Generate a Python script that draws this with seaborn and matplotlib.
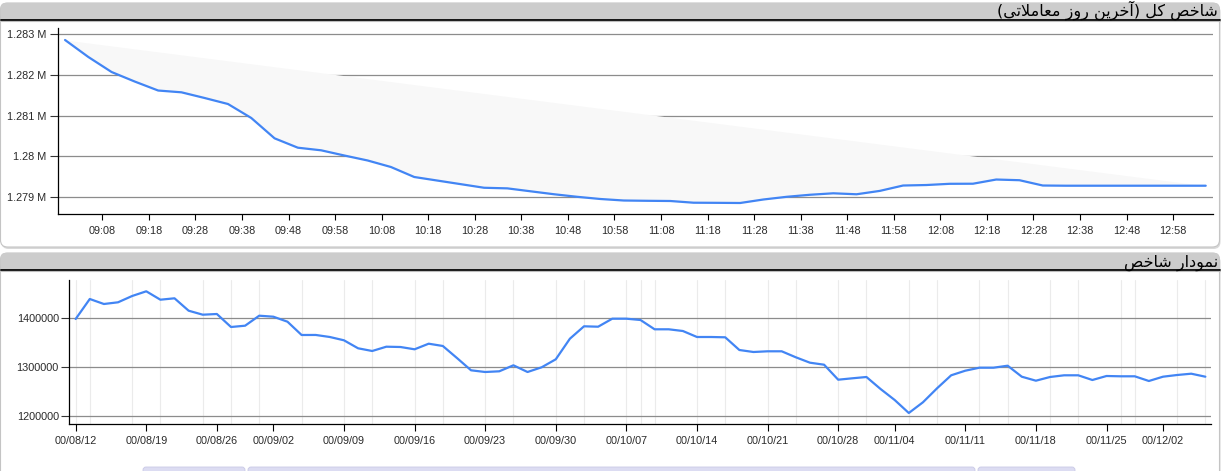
import numpy as np
import pandas as pd
import matplotlib
matplotlib.use("Agg")
import matplotlib.pyplot as plt
import seaborn as sns
from matplotlib.patches import FancyBboxPatch, Rectangle
from matplotlib.lines import Line2D
from matplotlib.transforms import IdentityTransform
from matplotlib.ticker import FixedLocator, FixedFormatter

# ------------------------------------------------------------------ data
title_top = "شاخص کل (آخرین روز معاملاتی)"
title_bottom = "نمودار شاخص"

# intraday index, one value every 5 minutes starting 09:00
intraday_start = "09:00"
intraday_step_min = 5
intraday_values = [
    1282853, 1282436, 1282067, 1281832, 1281613, 1281569, 1281429, 1281282, 1280939, 1280440,
    1280210, 1280146, 1280018, 1279896, 1279736, 1279491, 1279403, 1279315, 1279227, 1279212,
    1279140, 1279068, 1279005, 1278951, 1278914, 1278907, 1278902, 1278860, 1278857, 1278853,
    1278939, 1279005, 1279055, 1279091, 1279067, 1279150, 1279282, 1279294, 1279324, 1279326,
    1279429, 1279412, 1279282, 1279277, 1279277, 1279277, 1279277, 1279277, 1279277, 1279277,
]
intraday_tick_labels = ["09:08", "09:18", "09:28", "09:38", "09:48", "09:58", "10:08", "10:18",
                        "10:28", "10:38", "10:48", "10:58", "11:08", "11:18", "11:28", "11:38",
                        "11:48", "11:58", "12:08", "12:18", "12:28", "12:38", "12:48", "12:58"]
intraday_yticks = [1279000, 1280000, 1281000, 1282000, 1283000]

# daily index (trading days)
daily_values = [
    1398571, 1439388, 1429184, 1432653, 1445510, 1455102, 1437959, 1440816, 1415510, 1407347,
    1408776, 1382245, 1384898, 1405306, 1403265, 1393061, 1365918, 1366000, 1361837, 1355102,
    1338776, 1333265, 1342041, 1341429, 1336735, 1348163, 1343500, 1319000, 1293878, 1290408,
    1291837, 1304082, 1290408, 1300000, 1316327, 1358367, 1383673, 1382857, 1399184, 1399184,
    1396531, 1377551, 1377551, 1374082, 1361837, 1361837, 1361224, 1335306, 1331224, 1332653,
    1332653, 1320408, 1309388, 1305306, 1274694, 1277551, 1280204, 1255714, 1233265, 1206735,
    1228571, 1257143, 1283673, 1293061, 1299184, 1299184, 1303265, 1280816, 1272653, 1280204,
    1283673, 1283673, 1274082, 1282245, 1281633, 1281633, 1272041, 1280816, 1284286, 1286939,
    1280816,
]
daily_tick_labels = ["00/08/12", "00/08/19", "00/08/26", "00/09/02", "00/09/09", "00/09/16",
                     "00/09/23", "00/09/30", "00/10/07", "00/10/14", "00/10/21", "00/10/28",
                     "00/11/04", "00/11/11", "00/11/18", "00/11/25", "00/12/02"]
daily_tick_index = [0, 5, 10, 14, 19, 24, 29, 34, 39, 44, 49, 54, 58, 63, 68, 73, 77]
daily_vgrid_index = [0, 1, 4, 6, 9, 11, 13, 16, 19, 21, 24, 26, 29, 31, 34, 36, 39, 40, 41,
                     44, 46, 49, 51, 54, 56, 59, 61, 64, 66, 69, 71, 74, 75, 78, 80]
daily_yticks = [1200000, 1300000, 1400000]

# ------------------------------------------------------------------ Persian shaping
FORMS = {  # isolated, final, initial, medial
    '\u0627': ('\uFE8D', '\uFE8E', None, None),
    '\u0622': ('\uFE81', '\uFE82', None, None),
    '\u062F': ('\uFEA9', '\uFEAA', None, None),
    '\u0631': ('\uFEAD', '\uFEAE', None, None),
    '\u0632': ('\uFEAF', '\uFEB0', None, None),
    '\u0648': ('\uFEED', '\uFEEE', None, None),
    '\u0634': ('\uFEB5', '\uFEB6', '\uFEB7', '\uFEB8'),
    '\u062E': ('\uFEA5', '\uFEA6', '\uFEA7', '\uFEA8'),
    '\u0635': ('\uFEB9', '\uFEBA', '\uFEBB', '\uFEBC'),
    '\u06A9': ('\uFB8E', '\uFB8F', '\uFB90', '\uFB91'),
    '\u0644': ('\uFEDD', '\uFEDE', '\uFEDF', '\uFEE0'),
    '\u06CC': ('\uFBFC', '\uFBFD', '\uFBFE', '\uFBFF'),
    '\u0646': ('\uFEE5', '\uFEE6', '\uFEE7', '\uFEE8'),
    '\u0645': ('\uFEE1', '\uFEE2', '\uFEE3', '\uFEE4'),
    '\u0639': ('\uFEC9', '\uFECA', '\uFECB', '\uFECC'),
    '\u062A': ('\uFE95', '\uFE96', '\uFE97', '\uFE98'),
}
LAM_ALEF = {'\u0627': ('\uFEFB', '\uFEFC'), '\u0622': ('\uFEF5', '\uFEF6')}


def shape_rtl(text):
    chars = list(text)
    out = []
    i = 0
    n = len(chars)
    while i < n:
        c = chars[i]
        prev = chars[i - 1] if i > 0 else None
        prev_joins = prev in FORMS and FORMS[prev][2] is not None
        if c == '\u0644' and i + 1 < n and chars[i + 1] in LAM_ALEF:
            iso, fin = LAM_ALEF[chars[i + 1]]
            out.append(fin if prev_joins else iso)
            i += 2
            continue
        if c in FORMS:
            iso, fin, ini, med = FORMS[c]
            nxt = chars[i + 1] if i + 1 < n else None
            next_joins = nxt in FORMS and ini is not None
            if prev_joins and next_joins:
                out.append(med)
            elif prev_joins:
                out.append(fin)
            elif next_joins:
                out.append(ini)
            else:
                out.append(iso)
        else:
            out.append(c)
        i += 1
    vis = ''.join(reversed(out))
    return vis.translate(str.maketrans('()', ')('))


# ------------------------------------------------------------------ style
sns.set_theme(style="white")
plt.rcParams['font.family'] = ['Liberation Sans', 'DejaVu Sans']

W, H = 1228, 471
fig = plt.figure(figsize=(W / 100, H / 100), dpi=100)
fig.patch.set_facecolor('white')

LINE = '#4285f4'
TXT = '#2a2a2a'
GRID = '#8c8c8c'
ID = IdentityTransform()


def add_panel(y0, y1, title, baseline):
    # shadow + panel body
    fig.add_artist(FancyBboxPatch((1.5, H - y1 - 2), 1219, y1 - y0,
                                  boxstyle="round,pad=0,rounding_size=7",
                                  transform=ID, fc='#d9d9d9', ec='none', zorder=-5))
    fig.add_artist(FancyBboxPatch((0.5, H - y1), 1219, y1 - y0,
                                  boxstyle="round,pad=0,rounding_size=7",
                                  transform=ID, fc='white', ec='#c4c4c4', lw=0.8, zorder=-4))
    # header bar
    fig.add_artist(FancyBboxPatch((0.5, H - (y0 + 16)), 1219, 16,
                                  boxstyle="round,pad=0,rounding_size=5",
                                  transform=ID, fc='#cccccc', ec='none', zorder=-3))
    fig.add_artist(Rectangle((0.5, H - (y0 + 16)), 1219, 6,
                             transform=ID, fc='#cccccc', ec='none', zorder=-3))
    fig.add_artist(Line2D([0.5, 1219.5], [H - (y0 + 16.8)] * 2, transform=ID,
                          color='black', lw=1.3, zorder=-2))
    fig.add_artist(Line2D([0.5, 1219.5], [H - (y0 + 18.2)] * 2, transform=ID,
                          color='#bdbdbd', lw=0.8, zorder=-2))
    fig.text(1218 / W, 1 - baseline / H, shape_rtl(title), ha='right', va='baseline',
             fontsize=11.5, family=['DejaVu Sans'], color='black', zorder=1)


add_panel(3, 247, title_top, 15.5)
add_panel(253, 480, title_bottom, 267)

# lavender tabs at bottom
for x0, x1 in [(143, 245), (248, 975), (978, 1075)]:
    fig.add_artist(FancyBboxPatch((x0, -4), x1 - x0, 8, boxstyle="round,pad=0,rounding_size=3",
                                  transform=ID, fc='#dcdcf2', ec='#c9c9e6', lw=0.6, zorder=-1))

# ------------------------------------------------------------------ top chart
h0, m0 = map(int, intraday_start.split(':'))
df_top = pd.DataFrame({
    'minute': np.arange(len(intraday_values)) * intraday_step_min,
    'value': intraday_values,
})
tick_minutes = [int(s[:2]) * 60 + int(s[3:]) - (h0 * 60 + m0) for s in intraday_tick_labels]

ax1 = fig.add_axes([58.3 / W, 1 - 214 / H, (1212.7 - 58.3) / W, (214 - 28.3) / H])
ax1.set_zorder(2)
ax1.set_facecolor('none')
x = df_top['minute'].to_numpy()
y = df_top['value'].to_numpy(dtype=float)
chord = np.interp(x, [x[0], x[-1]], [y[0], y[-1]])
ax1.fill_between(x, y, chord, color='#f8f8f8', lw=0, zorder=1)
sns.lineplot(data=df_top, x='minute', y='value', ax=ax1, color=LINE, lw=1.6, zorder=3)
ax1.set_xlim(-1.45, 246.5)
ax1.set_ylim(1278583, 1283140)
ax1.yaxis.set_major_locator(FixedLocator(intraday_yticks))
ax1.yaxis.set_major_formatter(FixedFormatter([f"{v / 1e6:g} M" for v in intraday_yticks]))
ax1.xaxis.set_major_locator(FixedLocator(tick_minutes))
ax1.xaxis.set_major_formatter(FixedFormatter(intraday_tick_labels))
ax1.set_xlabel('')
ax1.set_ylabel('')
ax1.yaxis.grid(True, color=GRID, lw=0.9, zorder=0)
ax1.xaxis.grid(False)
ax1.set_axisbelow(True)
for s in ['top', 'right']:
    ax1.spines[s].set_visible(False)
for s in ['left', 'bottom']:
    ax1.spines[s].set_color('black')
    ax1.spines[s].set_linewidth(0.9)
ax1.tick_params(axis='y', which='major', left=True, length=6, width=0.8, color='#333333',
                pad=2.5, labelsize=7.8, labelcolor=TXT)
ax1.tick_params(axis='x', which='major', bottom=True, length=4.5, width=0.8, color='black',
                pad=4, labelsize=7.8, labelcolor=TXT)

# ------------------------------------------------------------------ bottom chart
df_bot = pd.DataFrame({'day': np.arange(len(daily_values)), 'value': daily_values})

ax2 = fig.add_axes([69.3 / W, 1 - 424 / H, (1211 - 69.3) / W, (424 - 280) / H])
ax2.set_zorder(2)
ax2.set_facecolor('none')
for gx in daily_vgrid_index:
    ax2.axvline(gx, color='#ebebeb', lw=0.8, zorder=0)
sns.lineplot(data=df_bot, x='day', y='value', ax=ax2, color=LINE, lw=1.6, zorder=3)
ax2.set_xlim(-0.45, 80.4)
ax2.set_ylim(1184286, 1478163)
ax2.yaxis.set_major_locator(FixedLocator(daily_yticks))
ax2.yaxis.set_major_formatter(FixedFormatter([f"{v:d}" for v in daily_yticks]))
ax2.xaxis.set_major_locator(FixedLocator(daily_tick_index))
ax2.xaxis.set_major_formatter(FixedFormatter(daily_tick_labels))
ax2.set_xlabel('')
ax2.set_ylabel('')
ax2.yaxis.grid(True, color=GRID, lw=0.9, zorder=1)
ax2.xaxis.grid(False)
for s in ['top', 'right']:
    ax2.spines[s].set_visible(False)
for s in ['left', 'bottom']:
    ax2.spines[s].set_color('black')
    ax2.spines[s].set_linewidth(0.9)
ax2.tick_params(axis='y', which='major', left=True, length=5.5, width=0.8, color='#333333',
                pad=2, labelsize=7.8, labelcolor=TXT)
ax2.tick_params(axis='x', which='major', bottom=True, length=4.8, width=0.8, color='black',
                pad=4, labelsize=7.8, labelcolor=TXT)

fig.savefig('out.png', dpi=100, facecolor='white')
